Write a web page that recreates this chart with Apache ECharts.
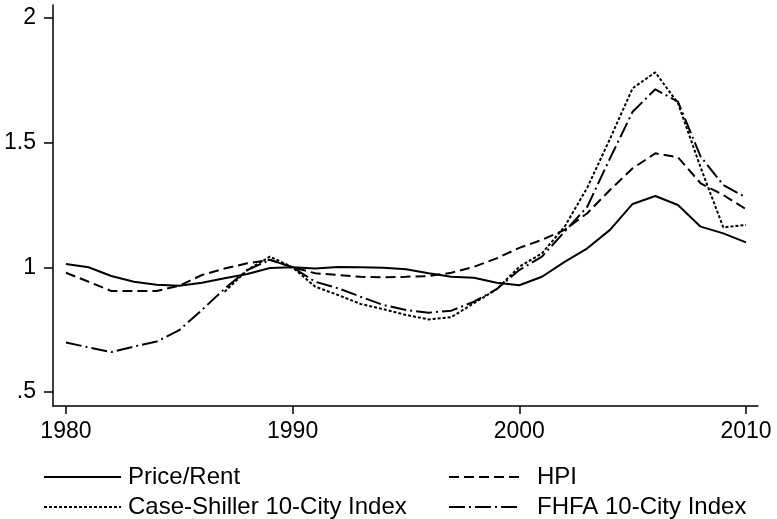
<!DOCTYPE html>
<html>
<head>
<meta charset="utf-8">
<script src="https://cdn.jsdelivr.net/npm/echarts@6/dist/echarts.min.js"></script>
<style>
  html, body { margin: 0; padding: 0; background: #fff; }
</style>
</head>
<body>
<div id="echart" style="width:777px;height:519px;"></div>
<script>
  // years 1980-2010
  const years = [1980, 1981, 1982, 1983, 1984, 1985, 1986, 1987, 1988, 1989,
                 1990, 1991, 1992, 1993, 1994, 1995, 1996, 1997, 1998, 1999,
                 2000, 2001, 2002, 2003, 2004, 2005, 2006, 2007, 2008, 2009, 2010];
  const priceRent = [1.013, 1.0, 0.965, 0.942, 0.93, 0.926, 0.938, 0.956, 0.973, 0.997,
                     1.0, 0.995, 1.001, 1.0, 0.998, 0.992, 0.976, 0.962, 0.958, 0.938,
                     0.928, 0.962, 1.022, 1.076, 1.15, 1.254, 1.286, 1.25, 1.163, 1.136, 1.1];
  const hpi = [0.978, 0.942, 0.905, 0.905, 0.905, 0.926, 0.969, 0.995, 1.016, 1.03,
               1.0, 0.976, 0.969, 0.962, 0.96, 0.962, 0.965, 0.978, 1.002, 1.036,
               1.078, 1.11, 1.15, 1.217, 1.31, 1.397, 1.457, 1.441, 1.337, 1.29, 1.233];
  const caseShiller = [null, null, null, null, null, null, null, 0.902, 0.989, 1.043,
                       1.0, 0.922, 0.889, 0.853, 0.832, 0.809, 0.791, 0.8, 0.856, 0.912,
                       1.002, 1.056, 1.163, 1.32, 1.515, 1.718, 1.782, 1.658, 1.4, 1.16, 1.17];
  const fhfa = [0.698, 0.679, 0.66, 0.682, 0.702, 0.748, 0.829, 0.914, 0.989, 1.03,
                1.0, 0.942, 0.916, 0.882, 0.849, 0.829, 0.818, 0.826, 0.862, 0.912,
                0.989, 1.043, 1.143, 1.243, 1.437, 1.624, 1.714, 1.664, 1.444, 1.33, 1.28];
  const xTicks = [1980, 1990, 2000, 2010];
  const yTicks = [0.5, 1, 1.5, 2];

  const pairs = arr => years.map((y, i) => [y, arr[i]]).filter(p => p[1] !== null);

  const font = 'Liberation Sans, Arial, sans-serif';
  const lineCommon = {type: 'line', symbol: 'none', showSymbol: false, silent: true, color: '#000'};

  // one legend box per entry, placed like the Stata 2x2 key
  function key(name, left, top, width, gap) {
    return {
      orient: 'horizontal', left: left, top: top, padding: 0,
      itemWidth: width, itemHeight: 14,
      itemStyle: {opacity: 0},
      selectedMode: false,
      textStyle: {color: '#000', fontSize: 24, fontFamily: font, padding: [0, 0, 0, gap]},
      data: [name]
    };
  }

  let myChart = echarts.init(document.getElementById('echart'));
  myChart.setOption({
    animation: false,
    backgroundColor: '#fff',
    grid: {left: 53, right: 19, top: 5, bottom: 113},
    xAxis: {
      type: 'value',
      min: 1979.43,
      max: 2010.53,
      splitLine: {show: false},
      axisLine: {lineStyle: {color: '#000', width: 1.5}},
      axisTick: {customValues: xTicks, length: 8, lineStyle: {color: '#000', width: 1.5}},
      axisLabel: {
        customValues: xTicks, margin: 14, color: '#000', fontSize: 23, fontFamily: font,
        formatter: v => String(v)
      }
    },
    yAxis: {
      type: 'value',
      min: 0.4437,
      max: 2.052,
      splitLine: {show: false},
      axisLine: {show: true, lineStyle: {color: '#000', width: 1.5}},
      axisTick: {show: true, customValues: yTicks, length: 9, lineStyle: {color: '#000', width: 1.5}},
      axisLabel: {
        customValues: yTicks, margin: 17, color: '#000', fontSize: 23, fontFamily: font,
        formatter: v => v === 0.5 ? '.5' : String(v)
      }
    },
    legend: [
      key('Price/Rent', 43, 465, 77, 2),
      key('Case-Shiller 10-City Index', 43, 495, 77, 2),
      key('HPI', 448, 465, 72, 11),
      key('FHFA 10-City Index', 448, 495, 72, 11)
    ],
    series: [
      Object.assign({}, lineCommon, {
        name: 'Price/Rent', data: pairs(priceRent),
        lineStyle: {color: '#000', width: 2, type: 'solid'}
      }),
      Object.assign({}, lineCommon, {
        name: 'HPI', data: pairs(hpi),
        lineStyle: {color: '#000', width: 2, type: [10, 5]}
      }),
      Object.assign({}, lineCommon, {
        name: 'Case-Shiller 10-City Index', data: pairs(caseShiller),
        lineStyle: {color: '#000', width: 2, type: [3, 2]}
      }),
      Object.assign({}, lineCommon, {
        name: 'FHFA 10-City Index', data: pairs(fhfa),
        lineStyle: {color: '#000', width: 2, type: [16, 4, 2, 4]}
      })
    ]
  });
</script>
</body>
</html>
